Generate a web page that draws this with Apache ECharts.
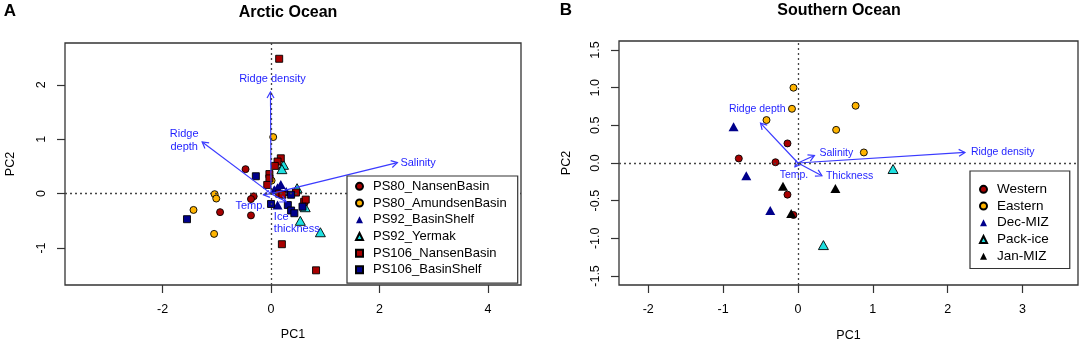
<!DOCTYPE html>
<html>
<head>
<meta charset="utf-8">
<script src="https://cdn.jsdelivr.net/npm/echarts@6/dist/echarts.min.js"></script>
<style>
  html, body { margin: 0; padding: 0; background: #fff; }
  #pca { width: 1084px; height: 352px; }
</style>
</head>
<body>
<div id="pca"></div>
<script>
// ---- Panel A: Arctic Ocean, PCA scores (PC1, PC2) ----
var ps80Nansen = [[-0.47, 0.45], [-0.32, -0.05], [-0.37, -0.10], [-0.94, -0.34], [-0.37, -0.40]];
var ps80Amundsen = [[-1.04, -0.01], [-1.01, -0.09], [-1.43, -0.30], [-1.05, -0.74], [0.04, 1.04], [0.01, 0.24]];
var ps92BasinShelf = [[0.18, 0.17], [0.12, 0.11], [0.06, 0.07], [0.28, 0.04], [0.12, -0.21]];
var ps92Yermak = [[0.23, 0.53], [0.20, 0.45], [0.48, 0.10], [0.63, -0.25], [0.54, -0.50], [0.91, -0.71]];
var ps106Nansen = [[0.15, 2.48], [0.18, 0.65], [0.12, 0.59], [0.07, 0.51], [-0.03, 0.36], [-0.03, 0.28],
                   [-0.07, 0.16], [0.15, 0.00], [0.21, -0.02], [0.46, 0.02], [0.61, -0.15], [0.64, -0.11],
                   [0.20, -0.93], [0.83, -1.41]];
var ps106BasinShelf = [[-0.28, 0.32], [-1.55, -0.47], [0.00, -0.19], [0.37, -0.02], [0.31, -0.21],
                       [0.37, -0.31], [0.43, -0.36], [0.58, -0.24]];

// loadings (arrows)
var arcticVars = ['Ridge density', 'Ridge\ndepth', 'Salinity', 'Temp.', 'Ice\nthickness'];
var arcticLoadX = [-0.01, -1.27, 2.33, -0.14, 0.28];
var arcticLoadY = [1.87, 0.95, 0.57, -0.02, -0.15];

var arcticXTicks = [-2, 0, 2, 4];
var arcticYTicks = [-1, 0, 1, 2];

// ---- Panel B: Southern Ocean ----
var western = [[-0.14, 0.26], [-0.79, 0.06], [-0.30, 0.01], [-0.14, -0.42], [-0.06, -0.69]];
var eastern = [[-0.06, 1.00], [-0.08, 0.72], [-0.42, 0.57], [0.77, 0.76], [0.51, 0.44], [0.88, 0.14]];
var decMIZ = [[-0.86, 0.48], [-0.69, -0.17], [-0.37, -0.63]];
var packIce = [[1.27, -0.08], [0.34, -1.09]];
var janMIZ = [[-0.20, -0.31], [-0.09, -0.67], [0.50, -0.34]];

var southernVars = ['Ridge density', 'Ridge depth', 'Salinity', 'Thickness', 'Temp.'];
var southernLoadX = [2.23, -0.50, 0.22, 0.32, -0.04];
var southernLoadY = [0.14, 0.53, 0.10, -0.17, -0.05];

var southernXTicks = [-2, -1, 0, 1, 2, 3];
var southernYTicks = [-1.5, -1.0, -0.5, 0, 0.5, 1.0, 1.5];

// ---- styling ----
var FONT = 'Liberation Sans, Arial, sans-serif';
var darkRed = '#a80000', orange = '#ffb400', navy = '#00008b', cyan = '#1ee0e0';
var arrowBlue = '#3a3aff', labelBlue = '#1f1fff';

// where each arrow label sits relative to the arrow tip (pixels)
var arcticPlace = {
  'Ridge density': { dx: 2, dy: -13, align: 'center' },
  'Ridge\ndepth': { dx: -18, dy: -1.5, align: 'center' },
  'Salinity': { dx: 3, dy: 0, align: 'left' },
  'Temp.': { dx: -13, dy: 11.7, align: 'center' },
  'Ice\nthickness': { dx: -12.4, dy: 21, align: 'left' }
};
var southernPlace = {
  'Ridge density': { dx: 6, dy: 0, align: 'left' },
  'Ridge depth': { dx: -3.3, dy: -13.6, align: 'center' },
  'Salinity': { dx: 5, dy: -2.4, align: 'left' },
  'Thickness': { dx: 4, dy: 0, align: 'left' },
  'Temp.': { dx: -1, dy: 8.3, align: 'center' }
};

function pts(name, data, g, symbol, size, fill, bordered) {
  return {
    name: name, type: 'scatter', xAxisIndex: g, yAxisIndex: g,
    symbol: symbol, symbolSize: size, data: data, z: 3,
    itemStyle: { color: fill, borderColor: '#000', borderWidth: bordered ? 0.9 : 0, opacity: 1 },
    emphasis: { disabled: true }
  };
}

function zeroLines() {
  return {
    silent: true, symbol: 'none', label: { show: false },
    lineStyle: { type: [2, 3], color: '#444', width: 1.3 },
    emphasis: { disabled: true },
    data: [{ xAxis: 0 }, { yAxis: 0 }]
  };
}

function arrowSeries(g, names, xs, ys, place, fontSize) {
  return {
    type: 'custom', xAxisIndex: g, yAxisIndex: g, z: 4, silent: true,
    dimensions: ['x', 'y', 'i'],
    encode: { x: 0, y: 1 },
    data: names.map(function (n, i) { return [xs[i], ys[i], i]; }),
    renderItem: function (params, api) {
      var i = api.value(2);
      var o = api.coord([0, 0]);
      var p = api.coord([api.value(0), api.value(1)]);
      var a = Math.atan2(p[1] - o[1], p[0] - o[0]);
      var L = 7, w = Math.PI / 6;
      var h1 = [p[0] - L * Math.cos(a - w), p[1] - L * Math.sin(a - w)];
      var h2 = [p[0] - L * Math.cos(a + w), p[1] - L * Math.sin(a + w)];
      var s = place[names[i]];
      return {
        type: 'group',
        children: [
          { type: 'line', shape: { x1: o[0], y1: o[1], x2: p[0], y2: p[1] },
            style: { stroke: arrowBlue, lineWidth: 1.2 } },
          { type: 'polyline', shape: { points: [h1, p, h2] },
            style: { stroke: arrowBlue, lineWidth: 1.2, fill: 'none' } },
          { type: 'text', x: p[0] + s.dx, y: p[1] + s.dy,
            style: { text: names[i], align: s.align, verticalAlign: 'middle', fill: labelBlue,
                     fontSize: fontSize, fontFamily: FONT, lineHeight: 12.5 } }
        ]
      };
    }
  };
}

function axis(g, min, max, ticks, name, gap, isY, fmt) {
  return {
    type: 'value', gridIndex: g, min: min, max: max,
    name: name, nameLocation: 'middle', nameGap: gap,
    nameTextStyle: { fontSize: 12.5, color: '#000', fontFamily: FONT },
    axisLine: { show: false, onZero: false },
    splitLine: { show: false },
    axisTick: { show: true, inside: false, length: 8, customValues: ticks,
                lineStyle: { color: '#333', width: 1.2 } },
    axisLabel: { customValues: ticks, margin: isY ? 17 : 18, rotate: isY ? 90 : 0,
                 fontSize: 12.5, color: '#000', fontFamily: FONT,
                 formatter: fmt || function (v) { return String(v); } }
  };
}

function legendBox(names, left, top, padding, fontSize) {
  return {
    data: names, orient: 'vertical', align: 'left', left: left, top: top,
    itemWidth: 7, itemHeight: 7, itemGap: 0, padding: padding,
    borderColor: '#333', borderWidth: 1.2, borderRadius: 0, backgroundColor: '#fff',
    selectedMode: false, z: 10,
    textStyle: { fontSize: fontSize, lineHeight: 16.7, color: '#000', fontFamily: FONT, padding: [0, 0, 0, 5] }
  };
}

var chart = echarts.init(document.getElementById('pca'), null, { renderer: 'canvas' });

var arcticNames = ['PS80_NansenBasin', 'PS80_AmundsenBasin', 'PS92_BasinShelf', 'PS92_Yermak',
                   'PS106_NansenBasin', 'PS106_BasinShelf'];
var southernNames = ['Western', 'Eastern', 'Dec-MIZ', 'Pack-ice', 'Jan-MIZ'];

var s0 = pts(arcticNames[0], ps80Nansen, 0, 'circle', 7, darkRed, true);
s0.markLine = zeroLines();
var t0 = pts(southernNames[0], western, 1, 'circle', 7, darkRed, true);
t0.markLine = zeroLines();

var option = {
  animation: false,
  backgroundColor: '#fff',
  grid: [
    { left: 65, top: 43, width: 456, height: 242, show: true, borderColor: '#333', borderWidth: 1.3 },
    { left: 619, top: 41, width: 459, height: 244, show: true, borderColor: '#333', borderWidth: 1.3 }
  ],
  xAxis: [
    axis(0, -3.80, 4.61, arcticXTicks, 'PC1', 43, false),
    axis(1, -2.39, 3.74, southernXTicks, 'PC1', 44, false)
  ],
  yAxis: [
    axis(0, -1.68, 2.77, arcticYTicks, 'PC2', 48, true),
    axis(1, -1.62, 1.62, southernYTicks, 'PC2', 46, true, function (v) { return v.toFixed(1); })
  ],
  legend: [
    legendBox(arcticNames, 347, 176, [2, 11, 5, 8], 13),
    legendBox(southernNames, 970, 171, [10, 21, 4, 9], 13.5)
  ],
  graphic: [
    { type: 'text', x: 10, y: 11, style: { text: 'A', align: 'center', verticalAlign: 'middle',
      fontSize: 17, fontWeight: 'bold', fontFamily: FONT, fill: '#000' } },
    { type: 'text', x: 288, y: 13, style: { text: 'Arctic Ocean', align: 'center', verticalAlign: 'middle',
      fontSize: 16, fontWeight: 'bold', fontFamily: FONT, fill: '#000' } },
    { type: 'text', x: 566, y: 10, style: { text: 'B', align: 'center', verticalAlign: 'middle',
      fontSize: 17, fontWeight: 'bold', fontFamily: FONT, fill: '#000' } },
    { type: 'text', x: 839, y: 11, style: { text: 'Southern Ocean', align: 'center', verticalAlign: 'middle',
      fontSize: 16, fontWeight: 'bold', fontFamily: FONT, fill: '#000' } }
  ],
  series: [
    s0,
    pts(arcticNames[1], ps80Amundsen, 0, 'circle', 7, orange, true),
    pts(arcticNames[2], ps92BasinShelf, 0, 'triangle', [10, 9], navy, false),
    pts(arcticNames[3], ps92Yermak, 0, 'triangle', [10, 9], cyan, true),
    pts(arcticNames[4], ps106Nansen, 0, 'rect', 7, darkRed, true),
    pts(arcticNames[5], ps106BasinShelf, 0, 'rect', 7, navy, true),
    arrowSeries(0, arcticVars, arcticLoadX, arcticLoadY, arcticPlace, 11),

    t0,
    pts(southernNames[1], eastern, 1, 'circle', 7, orange, true),
    pts(southernNames[2], decMIZ, 1, 'triangle', [10, 9], navy, false),
    pts(southernNames[3], packIce, 1, 'triangle', [10, 9], cyan, true),
    pts(southernNames[4], janMIZ, 1, 'triangle', [10, 9], '#000', false),
    arrowSeries(1, southernVars, southernLoadX, southernLoadY, southernPlace, 10.5)
  ]
};

chart.setOption(option);
</script>
</body>
</html>
